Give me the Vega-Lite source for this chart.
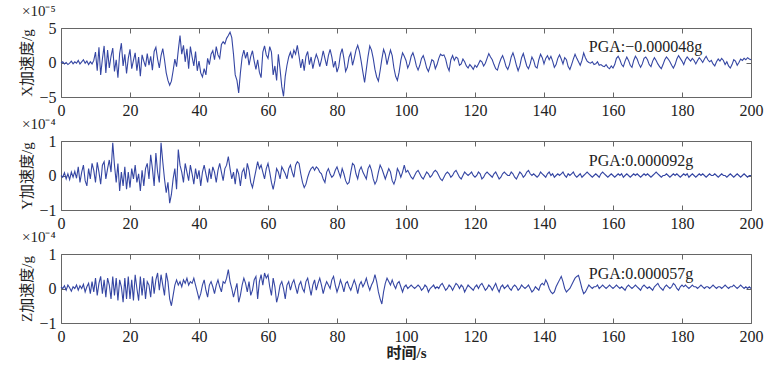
{
  "$schema": "https://vega.github.io/schema/vega-lite/v6.json",
  "background": "white",
  "padding": {"left": 19, "top": 3, "right": 20, "bottom": 4},
  "bounds": "flush",
  "spacing": 44,
  "config": {
    "font": "Liberation Serif",
    "view": {"stroke": "#666", "strokeWidth": 1},
    "axis": {"grid": false, "domain": false, "tickColor": "#666", "tickSize": -5, "labelFont": "Liberation Serif", "labelFontSize": 16, "labelColor": "#222", "labelFlush": false, "labelPadding": 10, "format": "d", "titleFont": "Liberation Serif, Noto Sans CJK SC", "titleFontSize": 15, "titleFontWeight": "normal", "titleColor": "#222"},
    "title": {"font": "Liberation Serif", "fontSize": 15, "fontWeight": "normal", "color": "#222", "anchor": "start", "offset": 1, "dx": 2}
  },
  "datasets": {
    "acc": [
{"t":0,"x":-0.1,"y":0,"z":0.05},{"t":0.5,"x":0.1,"y":-0.05,"z":0},{"t":1,"x":-0.2,"y":0.08,"z":0.08},{"t":1.5,"x":0,"y":-0.1,"z":-0.05},{"t":2,"x":-0.3,"y":0.05,"z":0.1},{"t":2.5,"x":-0.1,"y":-0.12,"z":0.02},{"t":3,"x":0.2,"y":0.1,"z":-0.08},{"t":3.5,"x":-0.2,"y":-0.05,"z":0.05},{"t":4,"x":0.1,"y":0.12,"z":0},{"t":4.5,"x":-0.1,"y":-0.08,"z":0.1},
{"t":5,"x":0.3,"y":0.25,"z":-0.05},{"t":5.5,"x":-0.2,"y":-0.2,"z":0.08},{"t":6,"x":0.1,"y":0.1,"z":0},{"t":6.5,"x":0.4,"y":0.3,"z":0.12},{"t":7,"x":-0.1,"y":-0.15,"z":-0.1},{"t":7.5,"x":0.2,"y":-0.3,"z":0.05},{"t":8,"x":-0.3,"y":0.2,"z":0.15},{"t":8.5,"x":0.1,"y":-0.1,"z":-0.15},{"t":9,"x":-0.2,"y":0.35,"z":0.2},{"t":9.5,"x":0.3,"y":0.15,"z":-0.1},
{"t":10,"x":1.5,"y":-0.2,"z":0.3},{"t":10.5,"x":-1.2,"y":0.38,"z":-0.2},{"t":11,"x":2.2,"y":0.1,"z":0.15},{"t":11.5,"x":-1.8,"y":-0.25,"z":0.35},{"t":12,"x":0.5,"y":0.3,"z":-0.15},{"t":12.5,"x":2.4,"y":0.4,"z":0.25},{"t":13,"x":-1.5,"y":-0.1,"z":-0.25},{"t":13.5,"x":1.8,"y":0.2,"z":0.3},{"t":14,"x":-0.8,"y":0.45,"z":0.1},{"t":14.5,"x":0.9,"y":0.1,"z":-0.3},
{"t":15,"x":2.1,"y":0.95,"z":0.35},{"t":15.5,"x":-1.3,"y":0.3,"z":-0.2},{"t":16,"x":0.4,"y":-0.2,"z":0.3},{"t":16.5,"x":-2.2,"y":0.35,"z":-0.35},{"t":17,"x":1.3,"y":-0.45,"z":0.25},{"t":17.5,"x":2.8,"y":0.1,"z":0.05},{"t":18,"x":-0.5,"y":-0.3,"z":-0.4},{"t":18.5,"x":1.2,"y":0.25,"z":0.3},{"t":19,"x":-1.6,"y":-0.4,"z":-0.3},{"t":19.5,"x":0.6,"y":0.1,"z":0.35},
{"t":20,"x":1.9,"y":-0.35,"z":-0.3},{"t":20.5,"x":-0.9,"y":0.2,"z":0.25},{"t":21,"x":0.3,"y":-0.1,"z":-0.35},{"t":21.5,"x":1.4,"y":0.3,"z":0.4},{"t":22,"x":-1.2,"y":-0.2,"z":0},{"t":22.5,"x":0.8,"y":0.05,"z":-0.35},{"t":23,"x":-2,"y":-0.45,"z":0.35},{"t":23.5,"x":1.1,"y":0.15,"z":-0.2},{"t":24,"x":0.2,"y":-0.3,"z":0.3},{"t":24.5,"x":-0.6,"y":0.2,"z":-0.3},
{"t":25,"x":1.3,"y":0.35,"z":0.2},{"t":25.5,"x":-0.4,"y":-0.1,"z":0.1},{"t":26,"x":0.9,"y":0.6,"z":-0.25},{"t":26.5,"x":-1.1,"y":0.2,"z":0.35},{"t":27,"x":1.6,"y":-0.3,"z":-0.15},{"t":27.5,"x":2.2,"y":0.65,"z":0.25},{"t":28,"x":0.5,"y":0.1,"z":0.45},{"t":28.5,"x":-0.8,"y":-0.2,"z":-0.05},{"t":29,"x":1,"y":0.95,"z":0.4},{"t":29.5,"x":2,"y":0.4,"z":0.1},
{"t":30,"x":0.4,"y":-0.1,"z":-0.2},{"t":30.5,"x":-1.5,"y":-0.5,"z":0.45},{"t":31,"x":-2.6,"y":-0.2,"z":0.2},{"t":31.5,"x":-3.3,"y":-0.8,"z":-0.3},{"t":32,"x":-2.7,"y":-0.55,"z":-0.5},{"t":32.5,"x":-1.2,"y":-0.1,"z":-0.2},{"t":33,"x":0.5,"y":0.2,"z":0.1},{"t":33.5,"x":-0.6,"y":-0.4,"z":0.25},{"t":34,"x":1.8,"y":0.75,"z":0.1},{"t":34.5,"x":3.9,"y":0.3,"z":0.2},
{"t":35,"x":1.2,"y":0.1,"z":0.05},{"t":35.5,"x":2.5,"y":-0.2,"z":0.25},{"t":36,"x":0.1,"y":0.35,"z":0.15},{"t":36.5,"x":2,"y":0.1,"z":0.3},{"t":37,"x":-0.9,"y":-0.15,"z":0.1},{"t":37.5,"x":2.3,"y":0.3,"z":0.2},{"t":38,"x":0.8,"y":0.05,"z":0.15},{"t":38.5,"x":-0.5,"y":-0.25,"z":0.3},{"t":39,"x":1.6,"y":0.2,"z":0.1},{"t":39.5,"x":-1.2,"y":-0.1,"z":-0.1},
{"t":40,"x":0.2,"y":0.15,"z":-0.3},{"t":40.5,"x":-1.5,"y":-0.3,"z":-0.15},{"t":41,"x":-2.1,"y":0.1,"z":0.1},{"t":41.5,"x":-0.9,"y":0.3,"z":0.25},{"t":42,"x":-1.8,"y":0.05,"z":-0.05},{"t":42.5,"x":0.6,"y":-0.2,"z":-0.25},{"t":43,"x":-0.3,"y":0.2,"z":0.1},{"t":43.5,"x":1.2,"y":-0.1,"z":0.2},{"t":44,"x":1.7,"y":0.25,"z":0.05},{"t":44.5,"x":0.4,"y":0.1,"z":-0.15},
{"t":45,"x":2.3,"y":-0.2,"z":0.1},{"t":45.5,"x":1.1,"y":0.15,"z":0.25},{"t":46,"x":0.6,"y":0.35,"z":0.05},{"t":46.5,"x":2.6,"y":0.1,"z":-0.1},{"t":47,"x":3,"y":-0.15,"z":0.2},{"t":47.5,"x":2.7,"y":0.2,"z":0.15},{"t":48,"x":3.5,"y":0.3,"z":0.3},{"t":48.5,"x":3.9,"y":0.55,"z":0.55},{"t":49,"x":4.4,"y":0.2,"z":0.2},{"t":49.5,"x":3.6,"y":-0.1,"z":0},
{"t":50,"x":1.2,"y":0.1,"z":-0.25},{"t":50.5,"x":-1.8,"y":-0.25,"z":-0.05},{"t":51,"x":-2.6,"y":0.2,"z":0.15},{"t":51.5,"x":-4.4,"y":0.05,"z":-0.4},{"t":52,"x":-1.5,"y":-0.3,"z":-0.2},{"t":52.5,"x":0.8,"y":0.1,"z":0.1},{"t":53,"x":1.8,"y":0.2,"z":0.3},{"t":53.5,"x":0.6,"y":-0.1,"z":0.15},{"t":54,"x":1.5,"y":0.35,"z":-0.1},{"t":54.5,"x":-0.4,"y":0.15,"z":0.2},
{"t":55,"x":0.9,"y":-0.2,"z":-0.2},{"t":55.5,"x":1.7,"y":-0.35,"z":-0.05},{"t":56,"x":0.2,"y":-0.1,"z":0.25},{"t":56.5,"x":-1,"y":0.15,"z":0.35},{"t":57,"x":0.4,"y":0.4,"z":-0.3},{"t":57.5,"x":-1.4,"y":0.2,"z":0.2},{"t":58,"x":-2.2,"y":0.3,"z":0.4},{"t":58.5,"x":1.5,"y":0.1,"z":0.1},{"t":59,"x":2.4,"y":-0.1,"z":0.45},{"t":59.5,"x":1.1,"y":0.2,"z":0.3},
{"t":60,"x":0.6,"y":0.35,"z":0.4},{"t":60.5,"x":2.3,"y":0.1,"z":0.05},{"t":61,"x":1.5,"y":-0.2,"z":-0.2},{"t":61.5,"x":-1.8,"y":-0.4,"z":0.3},{"t":62,"x":-0.5,"y":-0.15,"z":0.05},{"t":62.5,"x":-2.6,"y":0.2,"z":-0.4},{"t":63,"x":1.2,"y":0.1,"z":-0.2},{"t":63.5,"x":-1,"y":-0.1,"z":0.1},{"t":64,"x":-3.5,"y":0.25,"z":0.2},{"t":64.5,"x":-4.9,"y":0.15,"z":0},
{"t":65,"x":-2,"y":0.05,"z":-0.3},{"t":65.5,"x":-0.4,"y":-0.1,"z":0.1},{"t":66,"x":0.8,"y":0.2,"z":0.2},{"t":66.5,"x":1.5,"y":0.3,"z":-0.05},{"t":67,"x":0.6,"y":0.1,"z":0.15},{"t":67.5,"x":1.8,"y":-0.05,"z":0.25},{"t":68,"x":1.2,"y":0.3,"z":0.05},{"t":68.5,"x":2.5,"y":0.4,"z":-0.15},{"t":69,"x":0.9,"y":0.35,"z":0.1},{"t":69.5,"x":-0.8,"y":0.05,"z":0.2},
{"t":70,"x":0.5,"y":-0.2,"z":0},{"t":70.5,"x":-1.2,"y":-0.35,"z":-0.1},{"t":71,"x":0.9,"y":-0.25,"z":0.2},{"t":71.5,"x":1.6,"y":-0.05,"z":0.3},{"t":72,"x":-0.3,"y":0.1,"z":0.05},{"t":72.5,"x":0.8,"y":0.2,"z":-0.2},{"t":73,"x":-0.9,"y":0.25,"z":0.1},{"t":73.5,"x":0.3,"y":0.15,"z":0.25},{"t":74,"x":1.2,"y":0.25,"z":-0.05},{"t":74.5,"x":0.5,"y":0.2,"z":0.15},
{"t":75,"x":-0.6,"y":0.1,"z":0.3},{"t":75.5,"x":0.4,"y":0.05,"z":0.1},{"t":76,"x":1.7,"y":-0.1,"z":-0.15},{"t":76.5,"x":0.6,"y":-0.2,"z":0.05},{"t":77,"x":-0.5,"y":0.1,"z":0.2},{"t":77.5,"x":1,"y":0.2,"z":0.1},{"t":78,"x":1.9,"y":0.05,"z":0},{"t":78.5,"x":0.8,"y":-0.05,"z":0.25},{"t":79,"x":-0.7,"y":0,"z":0.35},{"t":79.5,"x":0.2,"y":0.15,"z":0.1},
{"t":80,"x":-1.4,"y":0.25,"z":-0.1},{"t":80.5,"x":-0.6,"y":0.1,"z":0.05},{"t":81,"x":1.2,"y":-0.05,"z":0.25},{"t":81.5,"x":2,"y":0.2,"z":0.1},{"t":82,"x":0.6,"y":0.05,"z":-0.1},{"t":82.5,"x":-1.3,"y":-0.15,"z":0.15},{"t":83,"x":-0.7,"y":-0.25,"z":0.2},{"t":83.5,"x":0.8,"y":-0.2,"z":0.05},{"t":84,"x":1.4,"y":0.1,"z":-0.05},{"t":84.5,"x":-0.4,"y":0.35,"z":0.1},
{"t":85,"x":0.6,"y":0.3,"z":0.25},{"t":85.5,"x":1.8,"y":0.05,"z":0.1},{"t":86,"x":2.5,"y":-0.1,"z":-0.15},{"t":86.5,"x":1.6,"y":0.15,"z":0.1},{"t":87,"x":0.2,"y":0.25,"z":0.2},{"t":87.5,"x":-1.4,"y":0.1,"z":0.05},{"t":88,"x":-2.9,"y":0,"z":0.15},{"t":88.5,"x":-1,"y":-0.1,"z":0.3},{"t":89,"x":0.9,"y":0.2,"z":0.1},{"t":89.5,"x":2.4,"y":0.3,"z":-0.05},
{"t":90,"x":1.8,"y":0.15,"z":0.1},{"t":90.5,"x":0.6,"y":-0.1,"z":0.2},{"t":91,"x":-1,"y":-0.25,"z":0.4},{"t":91.5,"x":-2.1,"y":-0.15,"z":0.2},{"t":92,"x":-2.7,"y":0.1,"z":-0.1},{"t":92.5,"x":-1.2,"y":0.3,"z":-0.3},{"t":93,"x":0.5,"y":0.2,"z":-0.45},{"t":93.5,"x":1.9,"y":0.05,"z":-0.1},{"t":94,"x":1.2,"y":-0.1,"z":0.15},{"t":94.5,"x":-0.3,"y":0.05,"z":0.3},
{"t":95,"x":0.8,"y":0.2,"z":0.2},{"t":95.5,"x":1.8,"y":0.1,"z":0.1},{"t":96,"x":1,"y":-0.15,"z":0.25},{"t":96.5,"x":-0.8,"y":-0.25,"z":0.1},{"t":97,"x":-2,"y":-0.1,"z":0},{"t":97.5,"x":-2.6,"y":0.2,"z":0.15},{"t":98,"x":-1.4,"y":0.1,"z":0.2},{"t":98.5,"x":0.3,"y":-0.05,"z":0.05},{"t":99,"x":1.4,"y":0.1,"z":-0.1},{"t":99.5,"x":0.9,"y":0.3,"z":0.05},
{"t":100,"x":0.3,"y":0.1,"z":0.1},{"t":100.5,"x":-0.8,"y":0.15,"z":0},{"t":101,"x":-0.2,"y":0.05,"z":0.05},{"t":101.5,"x":0.9,"y":-0.05,"z":0.1},{"t":102,"x":1.4,"y":-0.1,"z":0.05},{"t":102.5,"x":0.6,"y":0,"z":0},{"t":103,"x":-0.5,"y":0.1,"z":0.05},{"t":103.5,"x":-1.1,"y":0.15,"z":0.1},{"t":104,"x":-0.4,"y":0.05,"z":0.05},{"t":104.5,"x":0.6,"y":-0.05,"z":-0.05},
{"t":105,"x":1,"y":-0.1,"z":0},{"t":105.5,"x":0.2,"y":0,"z":0.1},{"t":106,"x":-0.8,"y":0.1,"z":0.05},{"t":106.5,"x":-1.3,"y":0.05,"z":-0.1},{"t":107,"x":-0.5,"y":-0.05,"z":0},{"t":107.5,"x":0.4,"y":0,"z":0.05},{"t":108,"x":0.2,"y":0.1,"z":0.1},{"t":108.5,"x":-0.9,"y":0.15,"z":0},{"t":109,"x":-0.3,"y":0.1,"z":0.05},{"t":109.5,"x":0.6,"y":0,"z":0},
{"t":110,"x":1.2,"y":-0.1,"z":0.1},{"t":110.5,"x":1,"y":-0.15,"z":0.15},{"t":111,"x":1.1,"y":-0.05,"z":0.05},{"t":111.5,"x":0.5,"y":0.05,"z":-0.05},{"t":112,"x":-0.6,"y":0.1,"z":0},{"t":112.5,"x":-1.2,"y":0.05,"z":0.1},{"t":113,"x":0.4,"y":-0.05,"z":0.05},{"t":113.5,"x":1,"y":0,"z":-0.05},{"t":114,"x":0.3,"y":0.1,"z":0.05},{"t":114.5,"x":0.8,"y":0.15,"z":0.15},
{"t":115,"x":0.6,"y":0.05,"z":0.1},{"t":115.5,"x":-0.4,"y":-0.05,"z":0},{"t":116,"x":-0.2,"y":-0.1,"z":0.1},{"t":116.5,"x":0.5,"y":0,"z":0.05},{"t":117,"x":0.1,"y":0.1,"z":-0.1},{"t":117.5,"x":-0.5,"y":0.05,"z":0},{"t":118,"x":-0.8,"y":0,"z":0.1},{"t":118.5,"x":-0.3,"y":0.05,"z":0.05},{"t":119,"x":-0.6,"y":0.1,"z":0},{"t":119.5,"x":-1,"y":0,"z":-0.05},
{"t":120,"x":-0.4,"y":-0.05,"z":0.05},{"t":120.5,"x":-0.7,"y":0,"z":0.1},{"t":121,"x":-0.2,"y":0.1,"z":0},{"t":121.5,"x":0.3,"y":0.05,"z":0.1},{"t":122,"x":0.1,"y":-0.1,"z":0.15},{"t":122.5,"x":-0.5,"y":-0.05,"z":0.05},{"t":123,"x":-0.1,"y":0.05,"z":-0.05},{"t":123.5,"x":0.6,"y":0.1,"z":0},{"t":124,"x":1.3,"y":0.05,"z":0.1},{"t":124.5,"x":0.8,"y":0,"z":0.05},
{"t":125,"x":0.4,"y":-0.05,"z":-0.05},{"t":125.5,"x":-0.3,"y":0.05,"z":0.05},{"t":126,"x":-0.9,"y":0.1,"z":0.15},{"t":126.5,"x":-1.1,"y":0,"z":0},{"t":127,"x":-0.2,"y":-0.1,"z":-0.1},{"t":127.5,"x":0.5,"y":-0.05,"z":0.05},{"t":128,"x":1,"y":0.05,"z":0.1},{"t":128.5,"x":0.3,"y":0.1,"z":0},{"t":129,"x":-0.6,"y":0.05,"z":0.05},{"t":129.5,"x":-1,"y":0,"z":0.1},
{"t":130,"x":-0.3,"y":0,"z":0},{"t":130.5,"x":0.8,"y":0.1,"z":-0.05},{"t":131,"x":1.4,"y":0.05,"z":0.05},{"t":131.5,"x":0.6,"y":-0.05,"z":0.1},{"t":132,"x":-0.4,"y":-0.1,"z":0.05},{"t":132.5,"x":-1.2,"y":0,"z":-0.05},{"t":133,"x":-0.5,"y":0.1,"z":0},{"t":133.5,"x":0.7,"y":0.05,"z":0.1},{"t":134,"x":1.3,"y":-0.05,"z":0.05},{"t":134.5,"x":0.4,"y":0,"z":0},
{"t":135,"x":-0.5,"y":0.1,"z":0.05},{"t":135.5,"x":-0.9,"y":0.15,"z":0.1},{"t":136,"x":-0.2,"y":0.05,"z":0},{"t":136.5,"x":0.8,"y":0,"z":-0.1},{"t":137,"x":0.3,"y":0.05,"z":-0.05},{"t":137.5,"x":-0.6,"y":0,"z":0.05},{"t":138,"x":-0.8,"y":-0.05,"z":0},{"t":138.5,"x":0.4,"y":0,"z":-0.05},{"t":139,"x":1.2,"y":0.1,"z":0.1},{"t":139.5,"x":0.7,"y":0.05,"z":0.15},
{"t":140,"x":-0.2,"y":0,"z":0.1},{"t":140.5,"x":0.6,"y":-0.05,"z":0.25},{"t":141,"x":1,"y":0.05,"z":0.15},{"t":141.5,"x":0.4,"y":0.1,"z":0},{"t":142,"x":0.9,"y":0,"z":-0.1},{"t":142.5,"x":0.2,"y":0.05,"z":-0.15},{"t":143,"x":-0.7,"y":-0.05,"z":-0.1},{"t":143.5,"x":-0.3,"y":0,"z":0.05},{"t":144,"x":0.6,"y":0.05,"z":0.15},{"t":144.5,"x":1.1,"y":0,"z":0.25},
{"t":145,"x":0.5,"y":0.05,"z":0.35},{"t":145.5,"x":-0.2,"y":0.1,"z":0.2},{"t":146,"x":0.7,"y":0,"z":0},{"t":146.5,"x":0.4,"y":-0.05,"z":-0.1},{"t":147,"x":-0.6,"y":0.05,"z":-0.05},{"t":147.5,"x":-1,"y":0,"z":0},{"t":148,"x":-0.3,"y":0.05,"z":0.1},{"t":148.5,"x":0.5,"y":0.1,"z":0.2},{"t":149,"x":1.2,"y":0,"z":0.3},{"t":149.5,"x":0.6,"y":-0.05,"z":0.35},
{"t":150,"x":0.1,"y":0,"z":0.38},{"t":150.5,"x":-0.4,"y":0.05,"z":0.2},{"t":151,"x":0.3,"y":-0.05,"z":0},{"t":151.5,"x":1.4,"y":0,"z":-0.15},{"t":152,"x":0.7,"y":0.05,"z":-0.1},{"t":152.5,"x":0.2,"y":0.1,"z":0},{"t":153,"x":0,"y":0.05,"z":0.1},{"t":153.5,"x":-0.1,"y":0,"z":0.05},{"t":154,"x":0.1,"y":-0.05,"z":0},{"t":154.5,"x":-0.3,"y":0,"z":0.05},
{"t":155,"x":-0.2,"y":0.05,"z":0.05},{"t":155.5,"x":0.1,"y":0,"z":0.1},{"t":156,"x":-0.4,"y":-0.05,"z":0},{"t":156.5,"x":-0.3,"y":0.05,"z":0.05},{"t":157,"x":-0.5,"y":0.1,"z":0.1},{"t":157.5,"x":-0.6,"y":0.05,"z":0.05},{"t":158,"x":-0.3,"y":0,"z":0},{"t":158.5,"x":-0.7,"y":-0.05,"z":0.05},{"t":159,"x":-0.9,"y":0,"z":0.1},{"t":159.5,"x":-0.5,"y":0.05,"z":0.05},
{"t":160,"x":-0.8,"y":0,"z":0},{"t":160.5,"x":-0.3,"y":-0.05,"z":0.05},{"t":161,"x":0.6,"y":0,"z":0.1},{"t":161.5,"x":0.9,"y":0.05,"z":0.05},{"t":162,"x":0.4,"y":0,"z":0},{"t":162.5,"x":-0.3,"y":0.05,"z":0.05},{"t":163,"x":-0.6,"y":-0.05,"z":0},{"t":163.5,"x":0.2,"y":0,"z":-0.05},{"t":164,"x":0.8,"y":0.05,"z":0.05},{"t":164.5,"x":0.3,"y":0,"z":0.1},
{"t":165,"x":-0.4,"y":-0.05,"z":0.05},{"t":165.5,"x":-0.7,"y":0,"z":0},{"t":166,"x":0.3,"y":0.05,"z":0.05},{"t":166.5,"x":0.9,"y":0,"z":0.1},{"t":167,"x":0.5,"y":0.05,"z":0.05},{"t":167.5,"x":-0.2,"y":0,"z":0},{"t":168,"x":-0.7,"y":-0.05,"z":-0.05},{"t":168.5,"x":-0.2,"y":0,"z":0.05},{"t":169,"x":0.6,"y":0.05,"z":0.1},{"t":169.5,"x":0.8,"y":0,"z":0.05},
{"t":170,"x":0.4,"y":0.05,"z":0},{"t":170.5,"x":-0.3,"y":0,"z":0.05},{"t":171,"x":-0.6,"y":-0.05,"z":0},{"t":171.5,"x":0.2,"y":0,"z":-0.05},{"t":172,"x":0.7,"y":0.05,"z":0.05},{"t":172.5,"x":0.3,"y":0.1,"z":0.1},{"t":173,"x":-0.2,"y":0.05,"z":0.15},{"t":173.5,"x":-0.6,"y":0,"z":0.05},{"t":174,"x":-0.9,"y":-0.05,"z":0},{"t":174.5,"x":-0.3,"y":0,"z":-0.05},
{"t":175,"x":0.4,"y":0,"z":0.05},{"t":175.5,"x":0.8,"y":0.05,"z":0.1},{"t":176,"x":0.5,"y":0,"z":0.05},{"t":176.5,"x":0.1,"y":-0.05,"z":0},{"t":177,"x":-0.4,"y":0,"z":0.05},{"t":177.5,"x":-0.8,"y":0.05,"z":0.15},{"t":178,"x":-0.3,"y":0,"z":0.1},{"t":178.5,"x":0.5,"y":0.05,"z":0},{"t":179,"x":1,"y":0,"z":-0.05},{"t":179.5,"x":0.6,"y":-0.05,"z":0.05},
{"t":180,"x":0.2,"y":0,"z":0.1},{"t":180.5,"x":-0.3,"y":0.05,"z":0.05},{"t":181,"x":0.4,"y":0,"z":0.1},{"t":181.5,"x":0.8,"y":0.05,"z":0.05},{"t":182,"x":0.5,"y":-0.05,"z":0},{"t":182.5,"x":0.2,"y":0,"z":0.05},{"t":183,"x":0.6,"y":0.05,"z":0.1},{"t":183.5,"x":0.3,"y":0,"z":0.05},{"t":184,"x":-0.2,"y":-0.05,"z":0.05},{"t":184.5,"x":0.3,"y":0,"z":0},
{"t":185,"x":0.7,"y":0.05,"z":0.05},{"t":185.5,"x":0.4,"y":0,"z":0.1},{"t":186,"x":0,"y":0.05,"z":0.05},{"t":186.5,"x":0.5,"y":0,"z":0},{"t":187,"x":0.9,"y":-0.05,"z":0.05},{"t":187.5,"x":0.4,"y":0,"z":0.05},{"t":188,"x":0.1,"y":0.05,"z":0},{"t":188.5,"x":0.3,"y":0,"z":0.05},{"t":189,"x":-0.2,"y":0,"z":0.1},{"t":189.5,"x":-0.5,"y":0.05,"z":0.05},
{"t":190,"x":0.1,"y":0,"z":0},{"t":190.5,"x":0.5,"y":-0.05,"z":0.05},{"t":191,"x":0.2,"y":0,"z":0.05},{"t":191.5,"x":0.6,"y":0.05,"z":0},{"t":192,"x":0.3,"y":0,"z":0.05},{"t":192.5,"x":-0.3,"y":0,"z":0.1},{"t":193,"x":0.1,"y":-0.05,"z":0.05},{"t":193.5,"x":-0.5,"y":0,"z":0},{"t":194,"x":-0.8,"y":0.05,"z":0.05},{"t":194.5,"x":-0.3,"y":0,"z":0.05},
{"t":195,"x":0.4,"y":-0.05,"z":0.1},{"t":195.5,"x":0.2,"y":0,"z":0.05},{"t":196,"x":-0.4,"y":0.05,"z":0},{"t":196.5,"x":0,"y":0,"z":0.05},{"t":197,"x":0.5,"y":-0.05,"z":0.1},{"t":197.5,"x":0.3,"y":0,"z":0.05},{"t":198,"x":0.6,"y":0.05,"z":0},{"t":198.5,"x":0.4,"y":0,"z":0.05},{"t":199,"x":0.7,"y":-0.05,"z":0},{"t":199.5,"x":0.5,"y":0,"z":0.05},
{"t":200,"x":0.4,"y":0,"z":0}
    ]
  },
  "vconcat": [
    {
      "width": 690, "height": 69,
      "title": {"text": "×10⁻⁵"},
      "layer": [
        {"data": {"name": "acc"}, "mark": {"type": "line", "color": "#3546a3", "strokeWidth": 1.1},
         "encoding": {
           "x": {"field": "t", "type": "quantitative", "scale": {"domain": [0, 200], "nice": false}, "axis": {"values": [0,20,40,60,80,100,120,140,160,180,200], "title": null}},
           "y": {"field": "x", "type": "quantitative", "scale": {"domain": [-5, 5], "nice": false}, "axis": {"values": [-5,0,5], "title": "X加速度/g"}}}},
        {"data": {"name": "acc"}, "mark": {"type": "line", "opacity": 0},
         "encoding": {
           "x": {"field": "t", "type": "quantitative", "axis": {"orient": "top", "values": [0,20,40,60,80,100,120,140,160,180,200], "labels": false, "title": null}},
           "y": {"field": "x", "type": "quantitative", "axis": {"orient": "right", "values": [-5,0,5], "labels": false, "title": null}}}},
        {"data": {"values": [{"label": "PGA:−0.000048g"}]}, "mark": {"type": "text", "align": "left", "baseline": "middle", "font": "Liberation Serif", "fontSize": 16, "color": "#222"},
         "encoding": {"x": {"datum": 153, "type": "quantitative", "axis": null}, "y": {"datum": 2.2, "type": "quantitative", "axis": null}, "text": {"field": "label"}}}
      ],
      "resolve": {"axis": {"x": "independent", "y": "independent"}}
    },
    {
      "width": 690, "height": 69,
      "title": {"text": "×10⁻⁴"},
      "layer": [
        {"data": {"name": "acc"}, "mark": {"type": "line", "color": "#3546a3", "strokeWidth": 1.1},
         "encoding": {
           "x": {"field": "t", "type": "quantitative", "scale": {"domain": [0, 200], "nice": false}, "axis": {"values": [0,20,40,60,80,100,120,140,160,180,200], "title": null}},
           "y": {"field": "y", "type": "quantitative", "scale": {"domain": [-1, 1], "nice": false}, "axis": {"values": [-1,0,1], "title": "Y加速度/g"}}}},
        {"data": {"name": "acc"}, "mark": {"type": "line", "opacity": 0},
         "encoding": {
           "x": {"field": "t", "type": "quantitative", "axis": {"orient": "top", "values": [0,20,40,60,80,100,120,140,160,180,200], "labels": false, "title": null}},
           "y": {"field": "y", "type": "quantitative", "axis": {"orient": "right", "values": [-1,0,1], "labels": false, "title": null}}}},
        {"data": {"values": [{"label": "PGA:0.000092g"}]}, "mark": {"type": "text", "align": "left", "baseline": "middle", "font": "Liberation Serif", "fontSize": 16, "color": "#222"},
         "encoding": {"x": {"datum": 153, "type": "quantitative", "axis": null}, "y": {"datum": 0.43, "type": "quantitative", "axis": null}, "text": {"field": "label"}}}
      ],
      "resolve": {"axis": {"x": "independent", "y": "independent"}}
    },
    {
      "width": 690, "height": 69,
      "title": {"text": "×10⁻⁴"},
      "layer": [
        {"data": {"name": "acc"}, "mark": {"type": "line", "color": "#3546a3", "strokeWidth": 1.1},
         "encoding": {
           "x": {"field": "t", "type": "quantitative", "scale": {"domain": [0, 200], "nice": false}, "axis": {"values": [0,20,40,60,80,100,120,140,160,180,200], "title": "时间/s", "titleFont": "Liberation Serif, Noto Sans CJK SC", "titleFontWeight": "bold", "titlePadding": 1}},
           "y": {"field": "z", "type": "quantitative", "scale": {"domain": [-1, 1], "nice": false}, "axis": {"values": [-1,0,1], "title": "Z加速度/g"}}}},
        {"data": {"name": "acc"}, "mark": {"type": "line", "opacity": 0},
         "encoding": {
           "x": {"field": "t", "type": "quantitative", "axis": {"orient": "top", "values": [0,20,40,60,80,100,120,140,160,180,200], "labels": false, "title": null}},
           "y": {"field": "z", "type": "quantitative", "axis": {"orient": "right", "values": [-1,0,1], "labels": false, "title": null}}}},
        {"data": {"values": [{"label": "PGA:0.000057g"}]}, "mark": {"type": "text", "align": "left", "baseline": "middle", "font": "Liberation Serif", "fontSize": 16, "color": "#222"},
         "encoding": {"x": {"datum": 153, "type": "quantitative", "axis": null}, "y": {"datum": 0.43, "type": "quantitative", "axis": null}, "text": {"field": "label"}}}
      ],
      "resolve": {"axis": {"x": "independent", "y": "independent"}}
    }
  ]
}
